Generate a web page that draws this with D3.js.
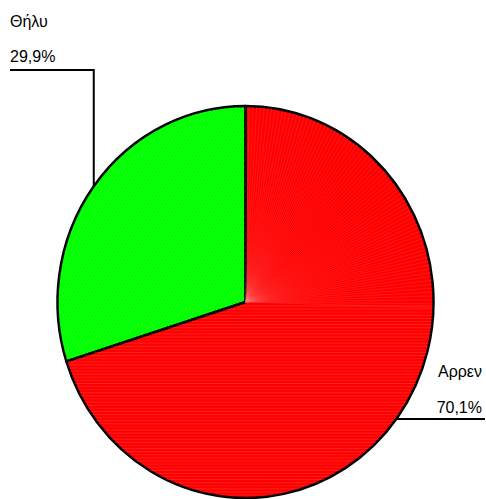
<!DOCTYPE html>
<html>
<head>
<meta charset="utf-8">
<script src="https://cdn.jsdelivr.net/npm/d3@7"></script>
<style>
  html, body { margin: 0; padding: 0; background: #fff; }
  svg { display: block; }
  text { font-family: "Liberation Sans", Arial, sans-serif; font-size: 16px; fill: #000; }
</style>
</head>
<body>
<svg id="chart" width="486" height="499"></svg>
<script>
const categories = ["Αρρεν", "Θήλυ"];
const values = [70.1, 29.9];
const colors = ["#ff0000", "#00ff00"];

const W = 486, H = 499;
const cx = 245.5, cy = 302, rx = 188, ry = 196;

const svg = d3.select("#chart");
const fmt = d3.formatLocale({decimal: ",", thousands: ".", grouping: [3], currency: ["", ""]}).format(".1f");

const data = categories.map((c, i) => ({cat: c, value: values[i], color: colors[i]}));
const pie = d3.pie().sort(null).value(d => d.value);
const arcs = pie(data);
const arc = d3.arc().innerRadius(0).outerRadius(1);

const pt = (a, k = 1) => [cx + rx * k * Math.sin(a), cy - ry * k * Math.cos(a)];

const defs = svg.append("defs");
arcs.forEach((d, i) => {
  defs.append("clipPath").attr("id", "clip" + i)
    .append("path")
    .attr("d", arc(d))
    .attr("transform", `translate(${cx},${cy}) scale(${rx},${ry})`);
});

const g = svg.append("g");
g.selectAll("path.fill").data(arcs).join("path")
  .attr("class", "fill")
  .attr("d", arc)
  .attr("transform", `translate(${cx},${cy}) scale(${rx},${ry})`)
  .attr("fill", d => d.data.color);

// faint render seams
const tex0 = svg.append("g").attr("clip-path", "url(#clip0)");
const splitA = 92 * Math.PI / 180;
for (let a = 0; a < splitA; a += 0.02) {
  const p = pt(a, 1.05);
  tex0.append("line").attr("x1", cx).attr("y1", cy).attr("x2", p[0]).attr("y2", p[1])
    .attr("stroke", "#ff8080").attr("stroke-width", 0.4).attr("stroke-opacity", 0.45);
}
for (let y = cy + 4; y < cy + ry + 5; y += 3.1) {
  tex0.append("line").attr("x1", cx - rx - 5).attr("x2", cx + rx + 5)
    .attr("y1", y).attr("y2", y)
    .attr("stroke", "#ff8080").attr("stroke-width", 0.5)
    .attr("stroke-opacity", 0.25 + 0.3 * Math.abs(Math.sin(y * 1.7)));
}
const tex1 = svg.append("g").attr("clip-path", "url(#clip1)");
for (let k = -400; k < 400; k += 3.5) {
  tex1.append("line").attr("x1", 40 + k).attr("y1", 420).attr("x2", 40 + k + 180).attr("y2", 100)
    .attr("stroke", "#90ff90").attr("stroke-width", 0.4).attr("stroke-opacity", 0.4);
}

g.append("g").selectAll("path.edge").data(arcs).join("path")
  .attr("class", "edge")
  .attr("d", arc)
  .attr("transform", `translate(${cx},${cy}) scale(${rx},${ry})`)
  .attr("fill", "none")
  .attr("stroke", "#000")
  .attr("stroke-width", 2.5)
  .attr("stroke-linejoin", "round")
  .attr("vector-effect", "non-scaling-stroke");

arcs.forEach((d, i) => {
  const mid = (d.startAngle + d.endAngle) / 2;
  const p = pt(mid);
  if (i === 1) {
    const yL = 70, xEnd = 10;
    svg.append("polyline")
      .attr("points", `${p[0]},${p[1]} ${p[0]},${yL} ${xEnd},${yL}`)
      .attr("fill", "none").attr("stroke", "#000").attr("stroke-width", 2);
    svg.append("text").attr("x", 10).attr("y", 27).text(d.data.cat);
    svg.append("text").attr("x", 10).attr("y", 62).text(fmt(d.data.value) + "%");
  } else {
    const yL = 419, xEnd = 485;
    const xs = cx + rx * Math.sqrt(1 - Math.pow((yL - cy) / ry, 2));
    svg.append("line")
      .attr("x1", xs).attr("y1", yL).attr("x2", xEnd).attr("y2", yL)
      .attr("stroke", "#000").attr("stroke-width", 2);
    svg.append("text").attr("x", 482).attr("y", 377).attr("text-anchor", "end").text(d.data.cat);
    svg.append("text").attr("x", 482).attr("y", 413).attr("text-anchor", "end").text(fmt(d.data.value) + "%");
  }
});
</script>
</body>
</html>
